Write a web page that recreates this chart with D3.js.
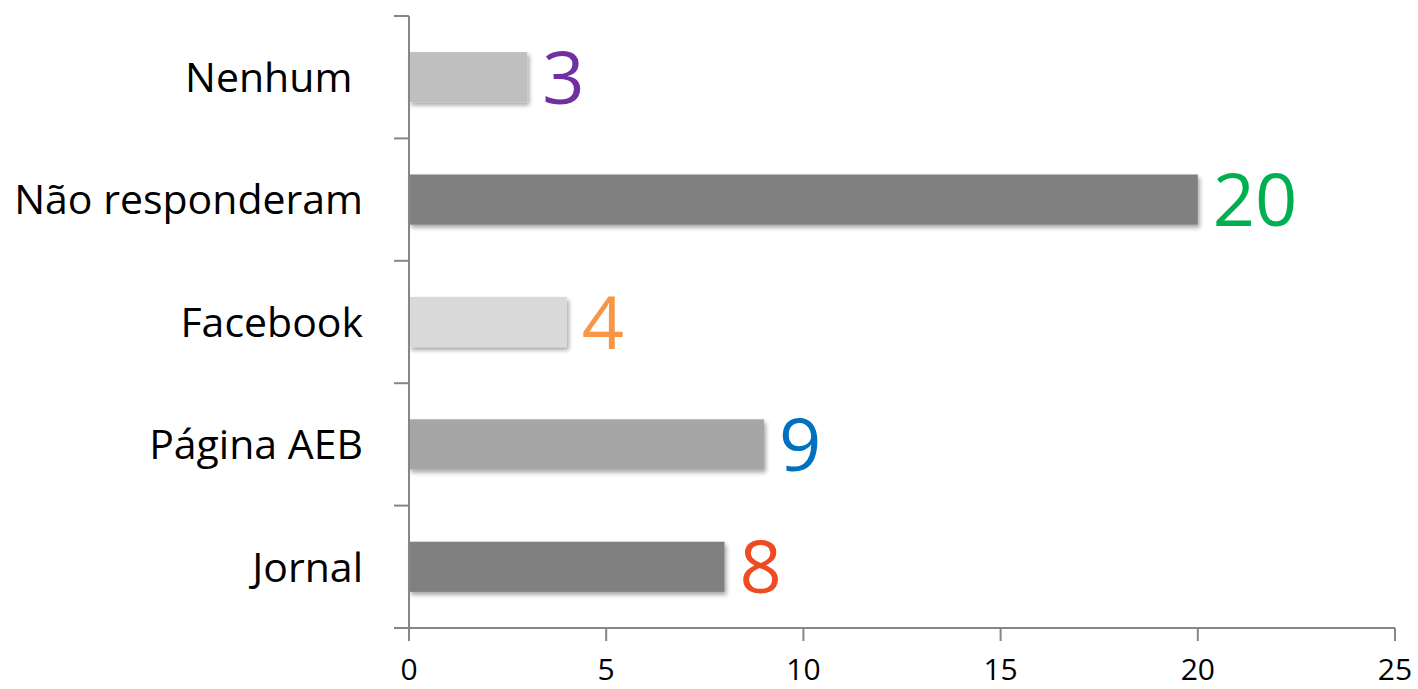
<!DOCTYPE html>
<html>
<head>
<meta charset="utf-8">
<script src="https://cdn.jsdelivr.net/npm/d3@7"></script>
<style>
  body { margin: 0; background: #fff; }
  svg { display: block; }
  text { font-family: "Open Sans", "Noto Sans", sans-serif; white-space: pre; }
</style>
</head>
<body>
<svg id="chart" width="1418" height="689"></svg>
<script>
const categories = ["Nenhum ", "Não responderam", "Facebook", "Página AEB", "Jornal"];
const values = [3, 20, 4, 9, 8];
const barColors = ["#bfbfbf", "#808080", "#d9d9d9", "#a6a6a6", "#808080"];
const labelColors = ["#7030a0", "#00b050", "#f79646", "#0070c0", "#ee4b22"];
const xTicks = [0, 5, 10, 15, 20, 25];

const svg = d3.select("#chart");
const margin = { left: 409, right: 23, top: 16, bottom: 61 };
const W = 1418, H = 689;

const x = d3.scaleLinear().domain([0, 25]).range([margin.left, W - margin.right]);
const y = d3.scaleBand().domain(categories).range([margin.top, H - margin.bottom]).paddingInner(0.59).paddingOuter(0.295);
const yTickScale = d3.scaleLinear().domain([0, categories.length]).range([margin.top, H - margin.bottom]);

const defs = svg.append("defs");
const f = defs.append("filter").attr("id", "shadow").attr("x", "-10%").attr("y", "-30%").attr("width", "130%").attr("height", "180%");
f.append("feDropShadow").attr("dx", 2).attr("dy", 3).attr("stdDeviation", 2).attr("flood-color", "#000").attr("flood-opacity", 0.35);

// bars
svg.append("g").selectAll("rect").data(categories).join("rect")
  .attr("x", x(0))
  .attr("y", d => y(d))
  .attr("width", (d, i) => x(values[i]) - x(0))
  .attr("height", y.bandwidth())
  .attr("fill", (d, i) => barColors[i])
  .attr("filter", "url(#shadow)");

// value labels
svg.append("g").selectAll("text").data(categories).join("text")
  .attr("x", (d, i) => x(values[i]) + 15)
  .attr("y", d => y(d) + y.bandwidth() / 2)
  .attr("dy", "0.36em")
  .attr("font-size", 74)
  .attr("fill", (d, i) => labelColors[i])
  .text((d, i) => values[i]);

const axisColor = "#868686";

// y axis line + ticks
const gy = svg.append("g");
gy.append("line").attr("x1", x(0)).attr("x2", x(0)).attr("y1", margin.top).attr("y2", H - margin.bottom)
  .attr("stroke", axisColor).attr("stroke-width", 2);
gy.selectAll("line.t").data(d3.range(categories.length + 1)).join("line").attr("class", "t")
  .attr("x1", x(0) - 15).attr("x2", x(0))
  .attr("y1", d => yTickScale(d)).attr("y2", d => yTickScale(d))
  .attr("stroke", axisColor).attr("stroke-width", 2);
gy.selectAll("text").data(categories).join("text")
  .attr("x", x(0) - 46)
  .attr("y", d => y(d) + y.bandwidth() / 2)
  .attr("dy", "0.36em")
  .attr("text-anchor", "end")
  .attr("font-size", 41)
  .attr("fill", "#000")
  .text(d => d);

// x axis
const gx = svg.append("g").attr("transform", `translate(0,${H - margin.bottom})`);
gx.append("line").attr("x1", x(0)).attr("x2", x(25)).attr("stroke", axisColor).attr("stroke-width", 2);
gx.selectAll("line.t").data(xTicks).join("line").attr("class", "t")
  .attr("x1", d => x(d)).attr("x2", d => x(d)).attr("y1", 0).attr("y2", 13)
  .attr("stroke", axisColor).attr("stroke-width", 2);
gx.selectAll("text").data(xTicks).join("text")
  .attr("x", d => x(d))
  .attr("y", 52)
  .attr("text-anchor", "middle")
  .attr("font-size", 30)
  .attr("fill", "#000")
  .text(d => d);
</script>
</body>
</html>
